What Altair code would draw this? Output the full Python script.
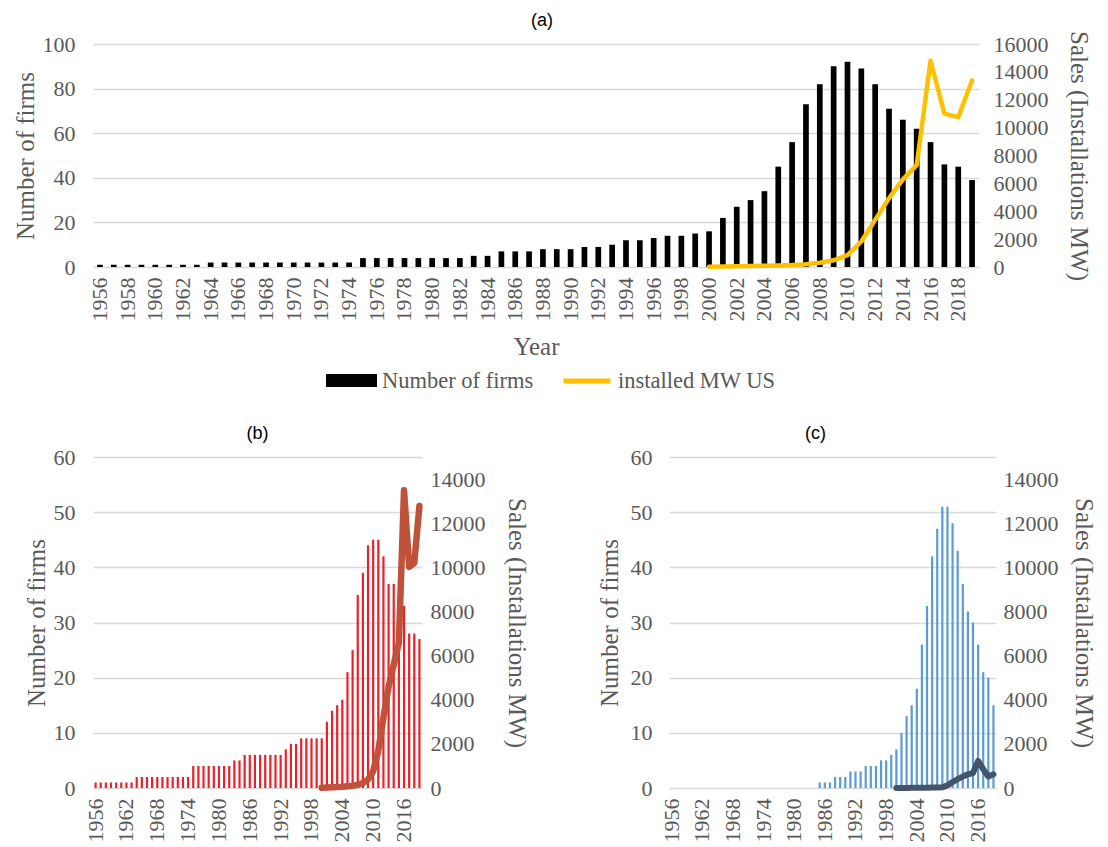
import altair as alt
import pandas as pd

# ---------------- data ----------------
years = list(range(1956, 2020))

firms_all = [1, 1, 1, 1, 1, 1, 1, 1,
             2, 2, 2, 2, 2, 2, 2, 2, 2, 2, 2,
             4, 4, 4, 4, 4, 4, 4, 4,
             5, 5,
             7, 7, 7, 8, 8, 8, 9, 9, 10, 12, 12, 13, 14, 14, 15, 16,
             22, 27, 30, 34, 45, 56, 73, 82, 90, 92, 89, 82, 71, 66, 62, 56, 46, 45, 39]

firms_b = [1, 1, 1, 1, 1, 1, 1, 1,
           2, 2, 2, 2, 2, 2, 2, 2, 2, 2, 2,
           4, 4, 4, 4, 4, 4, 4, 4,
           5, 5,
           6, 6, 6, 6, 6, 6, 6, 6, 7, 8, 8, 9, 9, 9, 9, 9,
           12, 14, 15, 16, 21, 25, 35, 39, 44, 45, 45, 42, 37, 37, 35, 33, 28, 28, 27]

firms_c = [0, 0, 0, 0, 0, 0, 0, 0,
           0, 0, 0, 0, 0, 0, 0, 0, 0, 0, 0,
           0, 0, 0, 0, 0, 0, 0, 0,
           0, 0,
           1, 1, 1, 2, 2, 2, 3, 3, 3, 4, 4, 4, 5, 5, 6, 7,
           10, 13, 15, 18, 26, 33, 42, 47, 51, 51, 48, 43, 37, 32, 30, 26, 21, 20, 15]

line_years = [2000, 2001, 2002, 2003, 2004, 2005, 2006, 2007, 2008, 2009,
              2010, 2011, 2012, 2013, 2014, 2015, 2016, 2017, 2018, 2019]
mw_us = [20, 30, 45, 65, 90, 110, 140, 200, 300, 480,
         850, 1830, 3380, 4930, 6290, 7310, 14800, 11000, 10750, 13400]
mw_b = [10, 20, 30, 45, 55, 75, 100, 140, 230, 380,
        760, 1700, 3200, 4600, 5600, 6600, 13530, 10050, 10230, 12820]
mw_c = [2, 3, 5, 8, 10, 12, 15, 20, 25, 30,
        120, 270, 400, 520, 620, 680, 1230, 850, 520, 620]

label_years_a = [1956, 1958, 1960, 1962, 1964, 1966, 1968, 1970, 1972, 1974, 1976,
                 1978, 1980, 1982, 1984, 1986, 1988, 1990, 1992, 1994, 1996, 1998,
                 2000, 2002, 2004, 2006, 2008, 2010, 2012, 2014, 2016, 2018]
label_years_bc = [1956, 1962, 1968, 1974, 1980, 1986, 1992, 1998, 2004, 2010, 2016]
left_ticks_a = [0, 20, 40, 60, 80, 100]
right_ticks_a = [0, 2000, 4000, 6000, 8000, 10000, 12000, 14000, 16000]
left_ticks_bc = [0, 10, 20, 30, 40, 50, 60]
right_ticks_bc = [0, 2000, 4000, 6000, 8000, 10000, 12000, 14000]

bar_name = "Number of firms"
line_name = "installed MW US"

SERIF = "Liberation Serif"
GRAY = "#595959"
LBL = dict(labelFont=SERIF, labelFontSize=22, labelColor=GRAY,
           titleFont=SERIF, titleFontSize=25, titleColor=GRAY, titleFontWeight="normal")

bars_df = pd.DataFrame({"year": years, "all": firms_all, "b": firms_b, "c": firms_c,
                        "s": [bar_name] * len(years)})
line_df = pd.DataFrame({"year": line_years, "us": mw_us, "b": mw_b, "c": mw_c,
                        "s": [line_name] * len(line_years)})


def xenc(values, title=None, title_pad=8):
    axis_kw = dict(values=values, labelAngle=270, labelPadding=10, grid=False,
                   ticks=False, domain=False, **LBL)
    if title is not None:
        axis_kw["titlePadding"] = title_pad
    return alt.X("year:O", scale=alt.Scale(domain=years, paddingInner=0, paddingOuter=0),
                 axis=alt.Axis(**axis_kw), title=title)


def left_y(field, dom, vals, lpad, tpad):
    return alt.Y(f"{field}:Q", scale=alt.Scale(domain=dom, nice=False),
                 axis=alt.Axis(values=vals, format="d", labelPadding=lpad,
                               titlePadding=tpad, grid=True, ticks=False, domain=False, **LBL),
                 title="Number of firms")


def right_y(field, dom, vals, lpad, tpad):
    return alt.Y(f"{field}:Q", scale=alt.Scale(domain=dom, nice=False),
                 axis=alt.Axis(values=vals, format="d", orient="right", labelPadding=lpad,
                               titlePadding=tpad, grid=False, ticks=False, domain=False, **LBL),
                 title="Sales (Installations MW)")


def ptitle(text, dx, offset):
    return alt.TitleParams(text, font="Liberation Sans", fontSize=18, fontWeight="normal",
                           color="#000000", offset=offset, frame="group", dx=dx)


# ---------------- panel (a) ----------------
bars_a = alt.Chart(bars_df).mark_bar(size=5.7).encode(
    x=xenc(label_years_a, "Year", 13),
    y=left_y("all", [0, 100], left_ticks_a, 18, 4),
    color=alt.Color("s:N", scale=alt.Scale(domain=[bar_name], range=["#000000"]),
                    legend=alt.Legend(title=None, orient="none", legendX=233, legendY=311,
                                      symbolType="M-1,-0.255H1V0.255H-1Z", symbolSize=2601,
                                      symbolStrokeWidth=0, symbolOpacity=1,
                                      labelFont=SERIF, labelFontSize=22.5, labelColor=GRAY,
                                      labelOffset=5, padding=0)),
)
line_a = alt.Chart(line_df).mark_line(strokeWidth=4.5, strokeCap="round", strokeJoin="round").encode(
    x=xenc(label_years_a, "Year", 13),
    y=right_y("us", [0, 16000], right_ticks_a, 14, 17),
    color=alt.Color("s:N", scale=alt.Scale(domain=[line_name], range=["#FFC000"]),
                    legend=alt.Legend(title=None, orient="none", legendX=468, legendY=311,
                                      symbolType="stroke", symbolSize=2209,
                                      symbolStrokeWidth=5, labelFont=SERIF,
                                      labelFontSize=22.5, labelColor=GRAY,
                                      labelOffset=5, padding=0)),
)
panel_a = alt.layer(bars_a, line_a).resolve_scale(y="independent", color="independent").properties(
    width=886, height=223, title=ptitle("(a)", 6, 1))

# ---------------- panel (b) ----------------
bars_b = alt.Chart(bars_df).mark_bar(size=2.2, color="#EC2028").encode(
    x=xenc(label_years_bc),
    y=left_y("b", [0, 60], left_ticks_bc, 18, 4),
)
line_b = alt.Chart(line_df).mark_line(strokeWidth=6.5, strokeCap="round", strokeJoin="round",
                                      color="#C0513B").encode(
    x=xenc(label_years_bc),
    y=right_y("b", [0, 15045], right_ticks_bc, 8, 18),
)
panel_b = alt.layer(bars_b, line_b).resolve_scale(y="independent").properties(
    width=329, height=331, title=ptitle("(b)", 0, 3))

# ---------------- panel (c) ----------------
bars_c = alt.Chart(bars_df).mark_bar(size=2.2, color="#5A9BD5").encode(
    x=xenc(label_years_bc),
    y=left_y("c", [0, 60], left_ticks_bc, 17, 8),
)
line_c = alt.Chart(line_df).mark_line(strokeWidth=6, strokeCap="round", strokeJoin="round",
                                      color="#44546A").encode(
    x=xenc(label_years_bc),
    y=right_y("c", [0, 15045], right_ticks_bc, 7, 12),
)
panel_c = alt.layer(bars_c, line_c).resolve_scale(y="independent").properties(
    width=327, height=331, title=ptitle("(c)", -17, 3))

bottom = alt.hconcat(panel_b, panel_c, spacing=247, bounds="flush")
chart = alt.vconcat(panel_a, bottom, spacing=190, bounds="flush").properties(
    padding={"left": 5, "top": 3, "right": 3, "bottom": 0}
).configure_axis(
    labelFont=SERIF, labelFontSize=22, labelColor=GRAY,
    titleFont=SERIF, titleFontSize=25, titleColor=GRAY, titleFontWeight="normal",
    gridColor="#D9D9D9", gridWidth=1.5, ticks=False, domain=False,
).configure_view(stroke=None)

chart.save("out.html", embed_options={"renderer": "svg", "actions": False})
